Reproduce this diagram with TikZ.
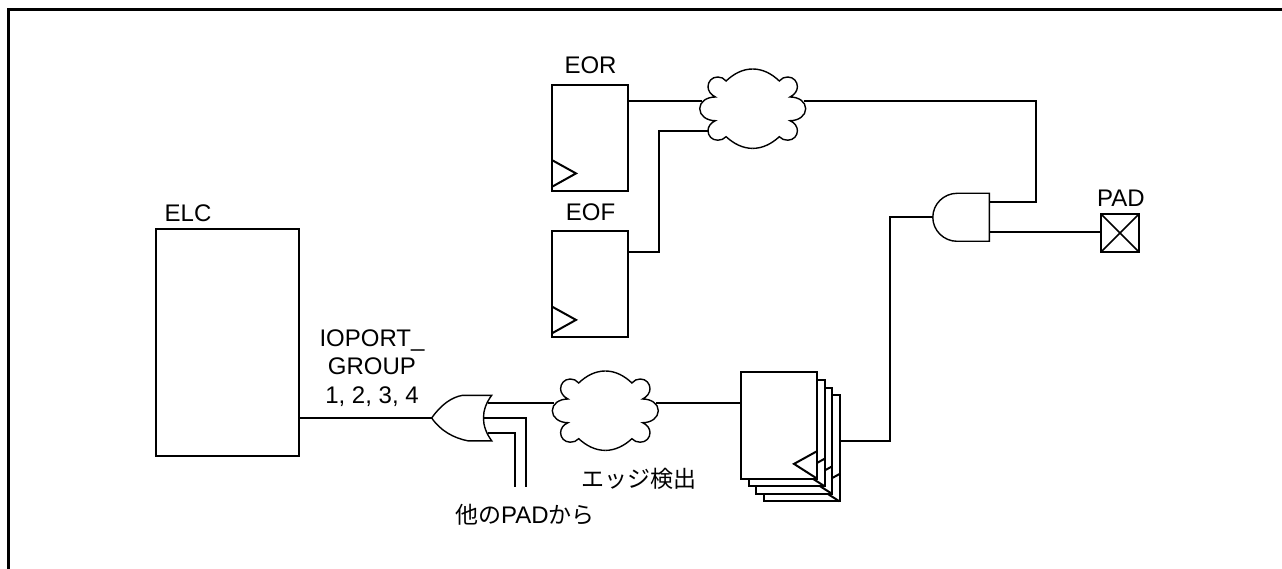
\documentclass[tikz,border=0pt]{standalone}
\usepackage{fontspec}
\setmainfont{Liberation Sans}
\newfontfamily\cjk{Noto Sans CJK JP}
\usetikzlibrary{calc}
\usetikzlibrary{positioning}

\tikzset{
    lbl/.style={inner sep=0pt, outer sep=0pt, align=center, font=\fontsize{24}{28.7}\selectfont},
    wire/.style={line width=2pt, line join=miter},
    gate/.style={line width=1.4pt, line join=miter},
    flop/.style={draw, fill=white, line width=2pt, inner sep=0pt, outer sep=0pt, minimum width=76pt, minimum height=106.2pt},
    % cloud of logic, ports are named relative to its centre
    logiccloud/.pic={
        \foreach \s in {1,-1}{
            \draw[gate, xscale=\s] (0,-39.7)
                .. controls (10,-39.7) and (19,-35) .. (26.6,-27.7)
                .. controls (28.5,-30.5) and (32,-31.7) .. (35,-31.7)
                .. controls (41,-31.7) and (44.7,-27) .. (44.7,-22)
                .. controls (44.7,-18) and (42,-14) .. (37.3,-11.7)
                .. controls (46,-11.7) and (53,-7) .. (53,0)
                .. controls (53,7) and (46,12) .. (37.3,12)
                .. controls (42,14) and (44.7,18) .. (44.7,22)
                .. controls (44.7,27) and (41,31.5) .. (35,31.5)
                .. controls (32,31.5) and (28.5,30.5) .. (26.6,28)
                .. controls (19,35) and (10,39.7) .. (0,39.7);
        }
        \coordinate (-w) at (-51,-8);
        \coordinate (-e) at (51,-8);
        \coordinate (-l) at (-44.7,22);
    },
    orgate/.pic={
        \draw[gate] (0,0) .. controls (9,-13) and (20,-21) .. (31,-22.7)
            -- (60,-22.7) .. controls (49,-8) and (49,8) .. (60,22.8)
            -- (36,22.8) .. controls (22,20) and (9,13) .. cycle;
        \coordinate (-in) at (0,0);
        \coordinate (-out) at (56.5,-15.3);
        \coordinate (-a) at (51.6,0);
        \coordinate (-b) at (56.5,15.3);
    },
    andgate/.pic={
        \draw[gate] (56.6,-24) -- (24.3,-24)
            .. controls (11,-24) and (0,-13.2) .. (0,0)
            .. controls (0,13.2) and (11,24) .. (24.3,24)
            -- (56.6,24) -- cycle;
        \coordinate (-in) at (0,0);
        \coordinate (-a) at (56.6,-15);
        \coordinate (-b) at (56.6,15);
    }
}

\begin{document}
\begin{tikzpicture}[x=1pt, y=-1pt]
    \useasboundingbox (0,0) rectangle (1282,569);
    \coordinate (fbl) at (8.5,569);
    \coordinate (ftl) at (8.5,9.5);
    \coordinate (ftr) at (1282,9.5);
    \draw[line width=3pt] (fbl) -- (ftl) -- (ftr);

    \node[draw, line width=2pt, inner sep=0pt, outer sep=0pt, minimum width=143pt, minimum height=227pt] (elc) at (227,342.7) {};
    \node[flop]                  (eor) at (590,137.7) {};
    \node[flop, below=40.3pt of eor] (eof) {};
    \foreach \f in {eor,eof}{
        \coordinate (\f-ta) at ($(\f.south west)+(0,-30.7)$);
        \coordinate (\f-tb) at ($(\f.south west)+(24,-17.4)$);
        \coordinate (\f-tc) at ($(\f.south west)+(0,-4)$);
        \draw[wire] (\f-ta) -- (\f-tb) -- (\f-tc);
    }

    % stack of registers, back to front
    \foreach \k/\n in {3/regd,2/regc,1/regb,0/rega}{
        \node[flop] (\n) at (779+7.5*\k,425.5+7.6*\k) {};
        \coordinate (\n-ta) at ($(\n.south east)+(0,-27.4)$);
        \coordinate (\n-tb) at ($(\n.south east)+(-23,-14.7)$);
        \draw[wire] (\n-ta) -- (\n-tb) -- (\n.south east);
    }

    \pic (cloudt) at (752.7,108.7) {logiccloud};
    \pic (cloudb) at (605.3,410.7) {logiccloud};
    \pic (org) at (431.7,418) {orgate};
    \pic (andg) at (932.8,217.3) {andgate};

    \node[draw, line width=2.4pt, inner sep=0pt, outer sep=0pt, minimum width=38pt, minimum height=38pt] (pad) at (1120,233) {};
    \draw[line width=1.6pt] (pad.north west) -- (pad.south east);
    \draw[line width=1.6pt] (pad.north east) -- (pad.south west);

    \node[lbl, anchor=base] (elclbl) at (188,222) {ELC};
    \node[lbl, anchor=base] (eorlbl) at (590.5,74) {EOR};
    \node[lbl, anchor=base] (eoflbl) at (590.5,221) {EOF};
    \node[lbl, anchor=base] (padlbl) at (1121,206.7) {PAD};
    \node[lbl] (grplbl) at (372,368) {IOPORT\_\\GROUP\\1, 2, 3, 4};
    \node[lbl] (edglbl) at (639,479) {\fontsize{23}{28}\selectfont\cjk エッジ検出};
    \node[lbl] (frmlbl) at (525,515) {{\fontsize{23}{28}\selectfont\cjk 他の}PAD{\fontsize{23}{28}\selectfont\cjk から}};

    \coordinate (elcout) at (elc.east |- org-in);
    \coordinate (eorq) at (eor.east |- cloudt-w);
    \coordinate (eofq) at ($(eof.north east)+(0,21)$);
    \coordinate (rin) at (rega.west |- cloudb-e);
    \coordinate (rout) at ($(regd.north east)+(0,45.7)$);
    \coordinate (pin) at (pad.west |- andg-b);
    \coordinate (aend) at (526,486.7);
    \coordinate (bend) at (514.7,486.7);
    \coordinate (turn) at (658.7,0);
    \coordinate (upa) at (1036,0);
    \coordinate (upr) at (890,0);

    \draw[wire] (elcout) -- (org-in);
    \draw[wire] (org-out) -- (cloudb-w);
    \draw[wire] (org-a) -| (aend);
    \draw[wire] (org-b) -| (bend);
    \draw[wire] (cloudb-e) -- (rin);
    \draw[wire] (eorq) -- (cloudt-w);
    \draw[wire] (eofq) -| (turn |- cloudt-l) -- (cloudt-l);
    \draw[wire] (cloudt-e) -| (upa |- andg-a) -- (andg-a);
    \draw[wire] (rout) -| (upr |- andg-in) -- (andg-in);
    \draw[wire] (andg-b) -- (pin);
\end{tikzpicture}
\end{document}
